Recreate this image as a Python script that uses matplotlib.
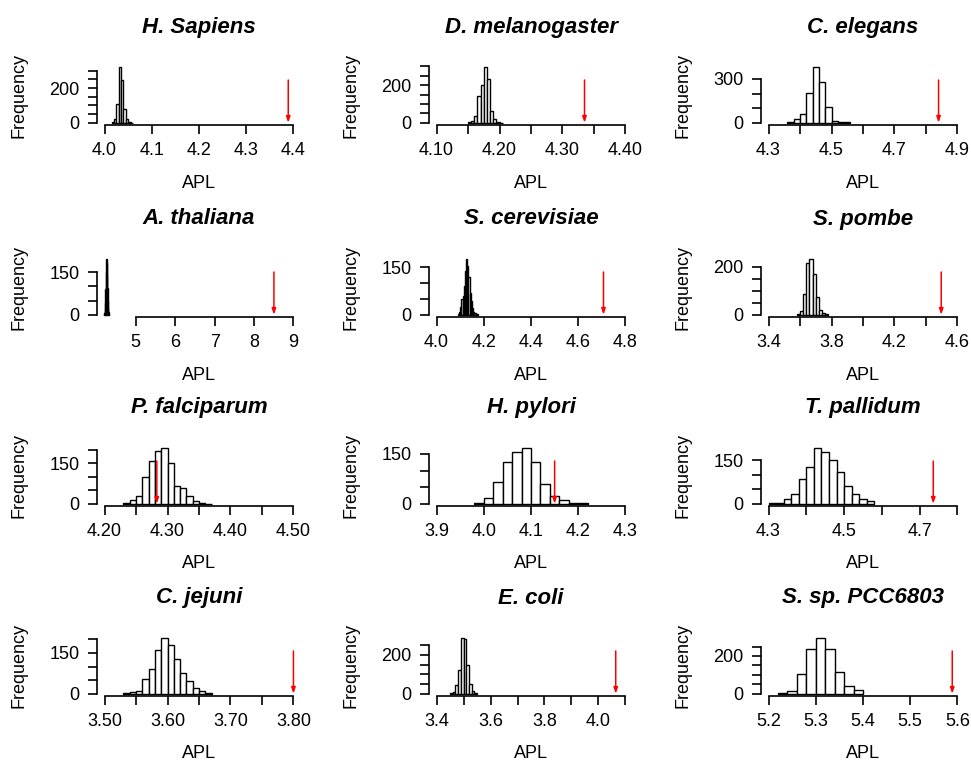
import numpy as np
import matplotlib
matplotlib.use("Agg")
import matplotlib.pyplot as plt

plt.rcParams['font.family'] = ['Liberation Sans', 'DejaVu Sans']

species = ["H. Sapiens", "D. melanogaster", "C. elegans",
           "A. thaliana", "S. cerevisiae", "S. pombe",
           "P. falciparum", "H. pylori", "T. pallidum",
           "C. jejuni", "E. coli", "S. sp. PCC6803"]

# histogram breaks of the randomised networks: first break and bin width
bin_start = [4.015, 4.150, 4.36, 4.19, 4.090, 3.58, 4.23, 3.98, 4.30, 3.53, 3.45, 5.22]
bin_width = [0.005, 0.005, 0.02, 0.01, 0.005, 0.02, 0.01, 0.02, 0.02, 0.01, 0.01, 0.02]

# counts per bin
counts_sapiens = [3, 20, 110, 320, 245, 80, 20, 5, 1]
counts_melanogaster = [2, 8, 35, 140, 200, 295, 235, 60, 20, 5, 1]
counts_elegans = [8, 23, 61, 205, 380, 277, 107, 15, 8, 3]
counts_thaliana = [2, 5, 15, 40, 90, 150, 195, 180, 140, 95, 50, 25, 10, 3]
counts_cerevisiae = [3, 10, 25, 50, 60, 90, 140, 176, 155, 120, 70, 45, 20, 10, 5, 2, 1]
counts_pombe = [5, 15, 88, 217, 231, 168, 74, 21, 6, 2]
counts_falciparum = [3, 15, 30, 97, 158, 193, 205, 150, 64, 58, 27, 9, 3, 1]
counts_pylori = [2, 17, 64, 127, 157, 167, 127, 59, 22, 10, 3, 1]
counts_pallidum = [1, 2, 15, 34, 87, 127, 192, 180, 152, 109, 62, 34, 15, 8]
counts_jejuni = [2, 5, 12, 54, 90, 160, 204, 180, 128, 78, 48, 22, 12, 3]
counts_coli = [3, 10, 45, 120, 285, 280, 150, 50, 15, 4]
counts_pcc = [5, 17, 103, 239, 294, 239, 115, 39, 20]

counts = [counts_sapiens, counts_melanogaster, counts_elegans,
          counts_thaliana, counts_cerevisiae, counts_pombe,
          counts_falciparum, counts_pylori, counts_pallidum,
          counts_jejuni, counts_coli, counts_pcc]

# APL of the real network (red arrow)
observed = [4.389, 4.335, 4.84, 8.505, 4.707, 4.497, 4.283, 4.15, 4.736, 3.80, 4.064, 5.589]

# x range used for the plot limits
x_lo = [4.0, 4.10, 4.3, 4.21, 4.0, 3.4, 4.20, 3.9, 4.3, 3.50, 3.4, 5.2]
x_hi = [4.4, 4.40, 4.9, 9.0, 4.8, 4.6, 4.50, 4.3, 4.8, 3.80, 4.1, 5.6]

xticks = [
    [4.0, 4.1, 4.2, 4.3, 4.4],
    [4.10, 4.15, 4.20, 4.25, 4.30, 4.35, 4.40],
    [4.3, 4.4, 4.5, 4.6, 4.7, 4.8, 4.9],
    [5, 6, 7, 8, 9],
    [4.0, 4.2, 4.4, 4.6, 4.8],
    [3.4, 3.6, 3.8, 4.0, 4.2, 4.4, 4.6],
    [4.20, 4.25, 4.30, 4.35, 4.40, 4.45, 4.50],
    [3.9, 4.0, 4.1, 4.2, 4.3],
    [4.3, 4.4, 4.5, 4.6, 4.7, 4.8],
    [3.50, 3.55, 3.60, 3.65, 3.70, 3.75, 3.80],
    [3.4, 3.5, 3.6, 3.7, 3.8, 3.9, 4.0, 4.1],
    [5.2, 5.3, 5.4, 5.5, 5.6],
]
xlabels = [
    ["4.0", "4.1", "4.2", "4.3", "4.4"],
    ["4.10", "", "4.20", "", "4.30", "", "4.40"],
    ["4.3", "", "4.5", "", "4.7", "", "4.9"],
    ["5", "6", "7", "8", "9"],
    ["4.0", "4.2", "4.4", "4.6", "4.8"],
    ["3.4", "", "3.8", "", "4.2", "", "4.6"],
    ["4.20", "", "4.30", "", "4.40", "", "4.50"],
    ["3.9", "4.0", "4.1", "4.2", "4.3"],
    ["4.3", "", "4.5", "", "4.7", ""],
    ["3.50", "", "3.60", "", "3.70", "", "3.80"],
    ["3.4", "", "3.6", "", "3.8", "", "4.0", ""],
    ["5.2", "5.3", "5.4", "5.5", "5.6"],
]

yticks = [
    [0, 50, 100, 150, 200, 250, 300],
    [0, 50, 100, 150, 200, 250, 300],
    [0, 100, 200, 300],
    [0, 50, 100, 150],
    [0, 50, 100, 150],
    [0, 50, 100, 150, 200],
    [0, 50, 100, 150, 200],
    [0, 50, 100, 150],
    [0, 50, 100, 150],
    [0, 50, 100, 150, 200],
    [0, 50, 100, 150, 200, 250],
    [0, 50, 100, 150, 200, 250],
]
ylabels = [
    ["0", "", "", "", "200", "", ""],
    ["0", "", "", "", "200", "", ""],
    ["0", "", "", "300"],
    ["0", "", "", "150"],
    ["0", "", "", "150"],
    ["0", "", "", "", "200"],
    ["0", "", "", "150", ""],
    ["0", "", "", "150"],
    ["0", "", "", "150"],
    ["0", "", "", "150", ""],
    ["0", "", "", "", "200", ""],
    ["0", "", "", "", "200", ""],
]

W, H = 971, 763
fig = plt.figure(figsize=(W / 100, H / 100), dpi=100)

# plot regions in pixels
col_left = [97, 429, 761]
row_bottom = [125, 317, 506, 696]
pw, ph = 204, 60

for i in range(12):
    r, c = divmod(i, 3)
    ax = fig.add_axes([col_left[c] / W, (H - row_bottom[r]) / H, pw / W, ph / H])

    cnt = np.array(counts[i])
    edges = bin_start[i] + bin_width[i] * np.arange(len(cnt))
    ax.bar(edges, cnt, width=bin_width[i], align='edge', color='white',
           edgecolor='black', linewidth=1.0)

    m = cnt.max()
    ax.annotate('', xy=(observed[i], 0), xytext=(observed[i], 0.77 * m),
                arrowprops=dict(arrowstyle='-|>,head_length=0.35,head_width=0.12',
                                color='red', lw=1.1, shrinkA=0, shrinkB=0))

    span = x_hi[i] - x_lo[i]
    ax.set_xlim(x_lo[i] - 0.04 * span, x_hi[i] + 0.04 * span)
    ax.set_ylim(-0.04 * m, 1.04 * m)

    for s in ['top', 'right']:
        ax.spines[s].set_visible(False)
    ax.spines['left'].set_bounds(0, yticks[i][-1])
    ax.spines['bottom'].set_bounds(xticks[i][0], xticks[i][-1])
    for s in ['left', 'bottom']:
        ax.spines[s].set_linewidth(1.2)

    ax.set_xticks(xticks[i])
    ax.set_xticklabels(xlabels[i])
    ax.set_yticks(yticks[i])
    ax.set_yticklabels(ylabels[i])
    ax.tick_params(axis='both', direction='out', length=6.5, width=1.2,
                   labelsize=13, colors='black')
    ax.tick_params(axis='x', pad=6)
    ax.tick_params(axis='y', pad=6)

    ax.text(0.5, 1 + 38 / ph, species[i], transform=ax.transAxes, ha='center',
            va='center', fontsize=16, fontweight='bold', fontstyle='italic')
    ax.text(0.5, -58 / ph, 'APL', transform=ax.transAxes, ha='center',
            va='center', fontsize=13)
    ax.text(-78 / pw, 0.5, 'Frequency', transform=ax.transAxes, ha='center',
            va='center', rotation=90, fontsize=13)

fig.savefig('out.png', dpi=100)
